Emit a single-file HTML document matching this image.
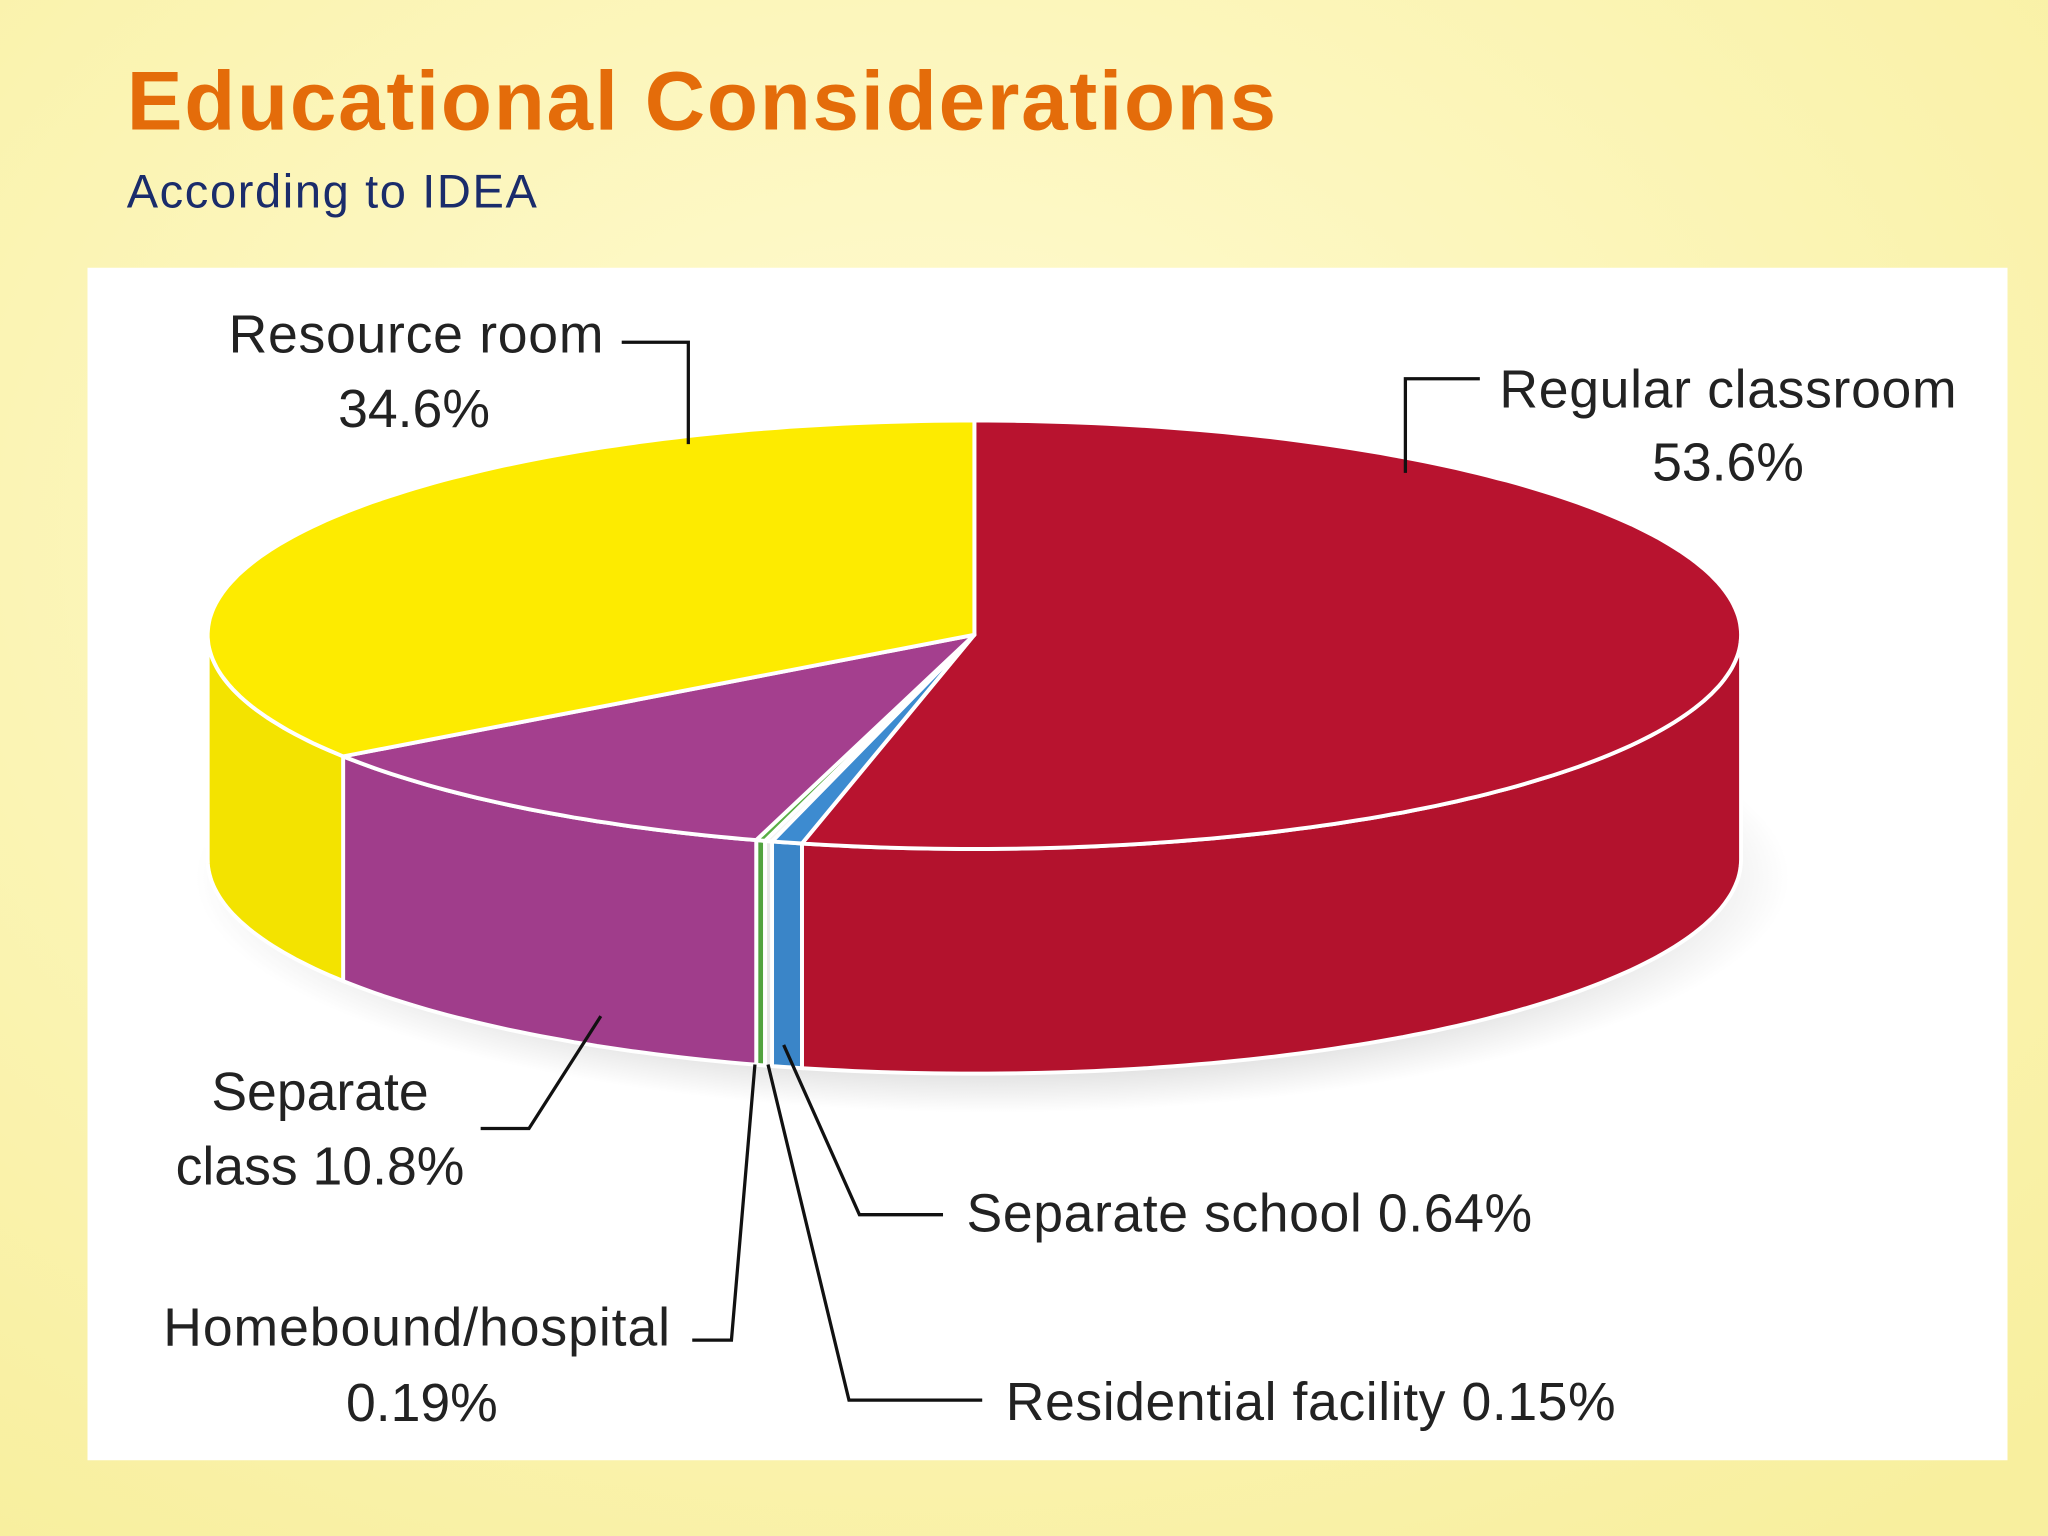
<!DOCTYPE html>
<html><head><meta charset="utf-8"><style>
html,body{margin:0;padding:0;width:2048px;height:1536px;overflow:hidden;background:#fbf6b8;}
svg{display:block}
</style></head><body>
<svg id="chart" width="2048" height="1536" viewBox="0 0 1568 1176" xmlns="http://www.w3.org/2000/svg">
<defs>
<radialGradient id="bg" cx="0.45" cy="0.35" r="0.8">
<stop offset="0" stop-color="#fffbd2"/><stop offset="1" stop-color="#f8ef9e"/></radialGradient>
<radialGradient id="sh" cx="0.5" cy="0.5" r="0.5">
<stop offset="0.7" stop-color="#999" stop-opacity="0.5"/><stop offset="1" stop-color="#999" stop-opacity="0"/></radialGradient>
</defs>
<rect x="0" y="0" width="1568" height="1176" fill="url(#bg)"/>
<text x="97" y="99" font-family="Liberation Sans, sans-serif" font-weight="bold" font-size="64" fill="#e46c0a" textLength="880">Educational Considerations</text>
<text x="97" y="159" font-family="Liberation Sans, sans-serif" font-size="36" fill="#1a2c6b" textLength="314">According to IDEA</text>
<rect x="67" y="205" width="1470" height="913" fill="#ffffff"/>
<ellipse cx="760" cy="672" rx="610" ry="180" fill="url(#sh)"/>
<g id="pie"></g>
<g id="labels" font-family="Liberation Sans, sans-serif" font-size="41" fill="#222"></g>
</svg>
<script>
const categories = ["Regular classroom","Separate school","Residential facility","Homebound/hospital","Separate class","Resource room"];
const values = [53.6,0.64,0.15,0.19,10.8,34.6];
const valueLabels = ["53.6%","0.64%","0.15%","0.19%","10.8%","34.6%"];
const colors = ["#b8132f","#3d8bd0","#f4f4f4","#5aae45","#a43f8e","#fdeb00"];
const sideColors = ["#b3122d","#3a85c8","#e8e8e8","#52a33f","#a03d8b","#f3e300"];

const NS="http://www.w3.org/2000/svg";
const cx=746, cy=486, rx=587, ry=164, depth=172;
function pt(deg,dy){const t=deg*Math.PI/180;return [cx+rx*Math.sin(t), cy-ry*Math.cos(t)+(dy||0)];}
function arc(a0,a1,dy){let s="";const n=Math.max(2,Math.ceil(Math.abs(a1-a0)));for(let i=0;i<=n;i++){const p=pt(a0+(a1-a0)*i/n,dy);s+=(s?" L":"M")+p[0].toFixed(1)+" "+p[1].toFixed(1);}return s;}
const pie=document.getElementById('pie');
const total=values.reduce((a,b)=>a+b,0);
let acc=0;const angles=values.map(v=>{const a0=acc/total*360;acc+=v;return [a0,acc/total*360];});
// sides
angles.forEach(([a0,a1],i)=>{
  const s=Math.max(a0,90), e=Math.min(a1,270);
  if(e<=s) return;
  const p=document.createElementNS(NS,'path');
  let d=arc(s,e,0);
  const back=arc(e,s,depth).replace("M"," L");
  d+=back+" Z";
  p.setAttribute('d',d);p.setAttribute('fill',sideColors[i]);p.setAttribute('stroke','#fff');p.setAttribute('stroke-width','3');
  
  
  pie.appendChild(p);
});
// tops
angles.forEach(([a0,a1],i)=>{
  const p=document.createElementNS(NS,'path');
  p.setAttribute('d',`M${cx} ${cy} `+arc(a0,a1,0).replace("M","L")+" Z");
  p.setAttribute('fill',colors[i]);p.setAttribute('stroke','#fff');p.setAttribute('stroke-width','3');p.setAttribute('stroke-linejoin','round');
  
  
  pie.appendChild(p);
});
// labels
const L=document.getElementById('labels');
function txt(s,x,y,anchor,len){const t=document.createElementNS(NS,'text');t.textContent=s;t.setAttribute('x',x);t.setAttribute('y',y);if(anchor)t.setAttribute('text-anchor',anchor);if(len)t.setAttribute('textLength',len);


L.appendChild(t);}
function line(pts){const p=document.createElementNS(NS,'polyline');p.setAttribute('points',pts);p.setAttribute('fill','none');p.setAttribute('stroke','#111');p.setAttribute('stroke-width','2.5');


L.appendChild(p);}
txt(categories[0],1148,312,null,350);txt(valueLabels[0],1323,368,'middle');
line("1133,290 1076,290 1076,362");
txt(categories[5],175,270,null,287);txt(valueLabels[5],317,327,'middle');
line("476,262 527,262 527,340");
txt("Separate",245,850,'middle');txt("class "+valueLabels[4],245,907,'middle');
line("368,864 405,864 460,778");
txt(categories[1]+" "+valueLabels[1],740,943,null,433);
line("600,800 658,930 722,930");
txt(categories[2]+" "+valueLabels[2],770,1087,null,467);
line("588,815 650,1072 752,1072");
txt(categories[3],125,1030,null,388);txt(valueLabels[3],323,1088,'middle');
line("578,815 560,1026 530,1026");
</script>
</body></html>
